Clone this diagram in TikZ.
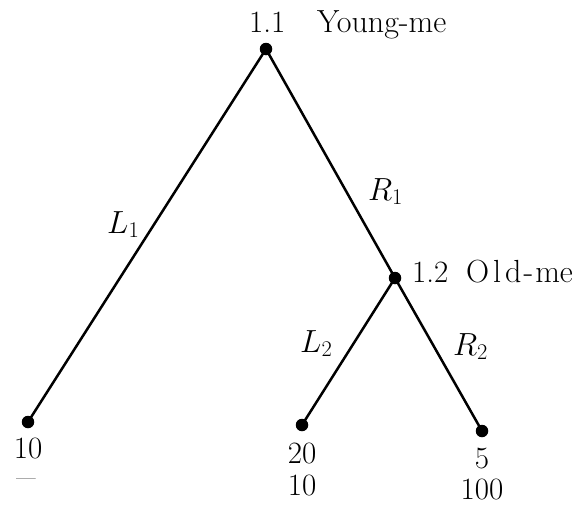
\documentclass[tikz,border=0pt]{standalone}
\usepackage{fix-cm}
\begin{document}
\begin{tikzpicture}[x=1pt,y=-1pt,
  dot/.style={circle,fill=black,inner sep=0pt,minimum size=12.5pt},
  branch/.style={line width=2.5pt},
  txt/.style={inner sep=0pt,font=\fontsize{31}{37}\selectfont},
  wrd/.style={inner sep=0pt,anchor=base west,font=\fontsize{32}{38}\selectfont},
  lbl/.style={txt,anchor=base west},
  act/.style={inner sep=0pt,anchor=base west,font=\fontsize{32}{38}\selectfont},
  pay/.style={txt,anchor=base}]
\useasboundingbox (0,0) rectangle (579,504);
% decision and terminal nodes
\node[dot] (n11) at (266,49) {};
\node[dot] (n12) at (395,278) {};
\node[dot] (t1) at (28,422) {};
\node[dot] (t2) at (302,425) {};
\node[dot] (t3) at (482,431) {};
% branches
\draw[branch] (n11.center) -- (t1.center);
\draw[branch] (n11.center) -- (n12.center);
\draw[branch] (n12.center) -- (t2.center);
\draw[branch] (n12.center) -- (t3.center);
% information set labels
\node[lbl] (i11) at (249,32) {1.1};
\node[wrd] (p11) at (317,32) {Young-me};
\node[lbl] (i12) at (412,282) {1.2};
\node[wrd] (p12) at (466,282) {O\kern4pt l\kern4pt d\kern2pt-\kern2pt me};
% action labels
\node[act] (aL1) at (107,233) {$L_1$};
\node[act] (aR1) at (368,200) {$R_1$};
\node[act] (aL2) at (300,352) {$L_2$};
\node[act] (aR2) at (453,355) {$R_2$};
% payoffs
\node[pay] (u1a) at (28,458) {10};
\node[txt] (u1b) at (26,482) {\fontsize{21}{25}\selectfont ---};
\node[pay] (u2a) at (302,463) {20};
\node[pay] (u2b) at (302,495) {10};
\node[pay] (u3a) at (482,468) {5};
\node[pay] (u3b) at (482,499) {100};
\end{tikzpicture}
\end{document}
